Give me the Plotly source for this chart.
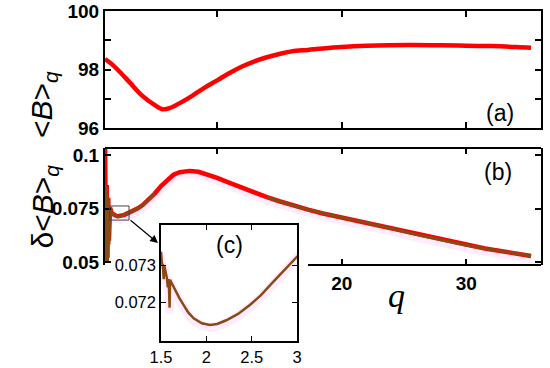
import plotly.graph_objects as go

# panel (a): <B>_q against q
q_a = [1.0, 1.5, 2.0, 3.0, 4.0, 5.0, 5.6, 6.2, 7.0, 8.0, 9.0, 10.0, 11.0, 12.0, 13.0,
       14.0, 15.0, 16.0, 17.3, 18.5, 20.0, 22.0, 25.4, 28.0, 30.0, 32.0, 34.0, 35.2]
B_a = [98.36, 98.2, 98.0, 97.55, 97.1, 96.78, 96.64, 96.68, 96.85, 97.1, 97.38, 97.63, 97.88, 98.1, 98.28,
       98.42, 98.53, 98.62, 98.67, 98.72, 98.77, 98.81, 98.84, 98.83, 98.81, 98.80, 98.77, 98.74]

# panel (b): delta <B>_q, start of the curve (spiky part below q=1.5)
q_start = [1.0, 1.08, 1.14, 1.2, 1.26, 1.32, 1.4]
dB_start_red = [0.110, 0.050, 0.086, 0.052, 0.080, 0.060, 0.0755]
dB_start_brown = [0.086, 0.0495, 0.085, 0.050, 0.080, 0.058, 0.0755]

# panel (b) / inset (c): rest of the curve
q_b = [1.50, 1.51, 1.52, 1.53, 1.535, 1.55, 1.565, 1.575, 1.585, 1.595, 1.60, 1.62, 1.64,
       1.70, 1.75, 1.80, 1.86, 1.95, 2.04, 2.12, 2.22, 2.35, 2.48, 2.60, 2.74, 2.87, 3.00,
       3.3, 3.6, 4.0, 4.5, 5.0, 5.5, 6.0, 6.5, 7.0, 7.8, 8.5, 9.2, 10.0, 11.0, 12.0, 13.0,
       14.0, 15.0, 16.0, 17.3, 18.5, 20.0, 21.5, 23.0, 24.5, 26.0, 27.5, 29.0, 30.0, 31.5,
       33.0, 34.2, 35.2]
dB_b = [0.07336, 0.07305, 0.07300, 0.07262, 0.07300, 0.07280, 0.07265, 0.07240, 0.07262, 0.07185,
        0.07260, 0.07250, 0.07240, 0.07212, 0.07192, 0.07172, 0.07156, 0.07143, 0.07138, 0.07141,
        0.07151, 0.07168, 0.07192, 0.07218, 0.07255, 0.07290, 0.07327,
        0.0740, 0.0750, 0.0765, 0.0790, 0.0820, 0.0855, 0.0885, 0.0908, 0.0920, 0.0926, 0.0922,
        0.0910, 0.0893, 0.0870, 0.0846, 0.0824, 0.0803, 0.0784, 0.0766, 0.0745, 0.0727, 0.0708,
        0.0690, 0.0671, 0.0649, 0.0628, 0.0609, 0.0590, 0.0578, 0.0563, 0.0549, 0.0538, 0.0528]

RED = "#ff0000"
BROWN = "#8a4a14"
PINK = "rgba(255,200,255,0.35)"
FONT = "Liberation Sans, Arial, sans-serif"

W, H = 550, 368


def px(x):
    return x / W


def py(y):
    return 1 - y / H


q_full = q_start + q_b
red_full = dB_start_red + dB_b
brown_full = dB_start_brown + dB_b
# brown hidden under the red around the maximum
brown_show = [v if (q < 5.3 or q > 13) else None for q, v in zip(q_full, brown_full)]

fig = go.Figure()
fig.add_trace(go.Scatter(x=q_a, y=B_a, mode="lines", line=dict(color=RED, width=4.5, shape="spline"),
                         xaxis="x", yaxis="y"))

fig.add_trace(go.Scatter(x=q_b, y=[v - 0.0012 for v in dB_b], mode="lines",
                         line=dict(color=PINK, width=9, shape="spline"), xaxis="x2", yaxis="y2"))
fig.add_trace(go.Scatter(x=q_full, y=red_full, mode="lines", line=dict(color=RED, width=4.5),
                         xaxis="x2", yaxis="y2"))
fig.add_trace(go.Scatter(x=q_full, y=brown_show, mode="lines", line=dict(color=BROWN, width=3),
                         xaxis="x2", yaxis="y2"))

fig.add_trace(go.Scatter(x=q_b, y=[v - 0.00006 for v in dB_b], mode="lines",
                         line=dict(color=PINK, width=9, shape="spline"), xaxis="x3", yaxis="y3"))
fig.add_trace(go.Scatter(x=q_b, y=dB_b, mode="lines", line=dict(color=BROWN, width=2.5),
                         xaxis="x3", yaxis="y3"))

axis_common = dict(showgrid=False, zeroline=False, ticks="inside", mirror="ticks",
                   linecolor="black", tickcolor="black", automargin=False)
main_tick = dict(family=FONT, size=19, color="black", weight="bold")
xdom = [px(105), px(541)]

fig.update_layout(
    template="none",
    width=W, height=H, margin=dict(l=0, r=0, t=0, b=0, autoexpand=False),
    paper_bgcolor="white", plot_bgcolor="white", showlegend=False,
    xaxis=dict(axis_common, domain=xdom, range=[1, 36], anchor="y", showline=True, linewidth=2,
               tickvals=[10, 20, 30], showticklabels=False, ticklen=6, tickwidth=1.5),
    yaxis=dict(axis_common, domain=[py(128), py(11)], range=[96, 100], anchor="x", showline=True,
               linewidth=2, tickvals=[96, 98, 100], ticklen=6, tickwidth=1.5, tickfont=main_tick,
               minor=dict(ticks="inside", tick0=96, dtick=1, ticklen=6, tickwidth=1.5, tickcolor="black")),
    # bottom/top line kept white: the visible frame of (b) is drawn with shapes below
    xaxis2=dict(axis_common, domain=xdom, range=[1, 36], anchor="y2", showline=True, linecolor="white",
                linewidth=2, tickvals=[20, 30], ticklen=6, tickwidth=1.5, tickfont=main_tick,
                minor=dict(ticks="inside", tick0=0, dtick=10, ticklen=6, tickwidth=1.5, tickcolor="black")),
    yaxis2=dict(axis_common, domain=[py(265), py(148)], range=[0.0486, 0.1033], anchor="x2",
                showline=True, linewidth=2, tickvals=[0.05, 0.075, 0.1], ticktext=["0.05", "0.075", "0.1"],
                ticklen=6, tickwidth=1.5, tickfont=main_tick),
    xaxis3=dict(axis_common, domain=[px(161), px(297)], range=[1.5, 3.0], anchor="y3", showline=True,
                linewidth=1.5, tickvals=[1.5, 2, 2.5, 3], ticktext=["1.5", "2", "2.5", "3"],
                ticklen=5, tickfont=dict(family=FONT, size=16.5, color="black")),
    yaxis3=dict(axis_common, domain=[py(341), py(225)], range=[0.07095, 0.07408], anchor="x3",
                showline=True, linewidth=1.5, tickvals=[0.072, 0.073], ticktext=["0.072", "0.073"],
                ticklen=5, tickfont=dict(family=FONT, size=16.5, color="black")),
)

# frame pieces of panel (b) that the inset leaves visible
fig.add_shape(type="line", xref="x2 domain", yref="y2 domain", x0=0, x1=1, y0=1, y1=1,
              line=dict(color="black", width=2))
fig.add_shape(type="line", xref="x2 domain", yref="y2 domain", x0=(308 - 105) / 436, x1=1, y0=0, y1=0,
              line=dict(color="black", width=2))
# zoom box
fig.add_shape(type="rect", xref="x2", yref="y2", x0=1.37, x1=2.93, y0=0.0696, y1=0.0762,
              line=dict(color="#444444", width=1))

ann_font = dict(family=FONT, size=23, color="black")
fig.add_annotation(x=px(516), y=py(98), xref="paper", yref="paper", text="(a)", showarrow=False, font=ann_font)
fig.add_annotation(x=px(514), y=py(172), xref="paper", yref="paper", text="(b)", showarrow=False, font=ann_font)
fig.add_annotation(x=px(229), y=py(245), xref="paper", yref="paper", text="(c)", showarrow=False, font=ann_font)
fig.add_annotation(x=px(23), y=py(69), xref="paper", yref="paper", textangle=-90, showarrow=False,
                   text="&lt;<i>B</i>&gt;<sub><i>q</i></sub>", font=dict(family=FONT, size=30, color="black"))
fig.add_annotation(x=px(23), y=py(207), xref="paper", yref="paper", textangle=-90, showarrow=False,
                   text="δ&lt;<i>B</i>&gt;<sub><i>q</i></sub>", font=dict(family=FONT, size=30, color="black"))
fig.add_annotation(x=px(407), y=py(316), xref="paper", yref="paper", text="<i>q</i>", showarrow=False,
                   font=dict(family="Liberation Serif, serif", size=34, color="black"))
fig.add_annotation(x=px(158), y=py(243), xref="paper", yref="paper", ax=-29, ay=-24, text="",
                   showarrow=True, arrowhead=2, arrowsize=1.3, arrowwidth=1.2, arrowcolor="black")

# the page's default body margin would push the 550x368 figure out of the window
fig.write_html("out.html", config={"displayModeBar": False},
               post_script="document.body.style.margin='0';")
